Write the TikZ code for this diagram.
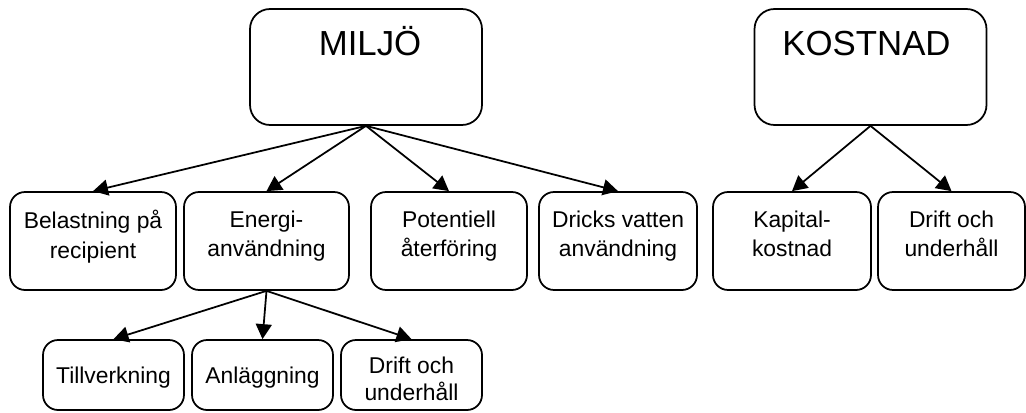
\documentclass[tikz,border=0pt]{standalone}
\usepackage{fontspec}
\setmainfont{Liberation Sans}
\usetikzlibrary{arrows.meta,positioning}
\tikzset{
  catBox/.style = {draw=black, rounded corners=0.3cm, line width=1pt, inner sep=0pt},
  %top boxes
  headBox/.style = {catBox, rounded corners=0.4cm, minimum width=4.64cm,
    minimum height=2.32cm},
  %middle row
  midBox/.style = {catBox, minimum height=1.96cm},
  %bottom row
  lowBox/.style = {catBox, minimum width=2.82cm, minimum height=1.4cm},
  headText/.style = {anchor=base, inner sep=0pt, font=\fontsize{19.8}{24}\selectfont},
  midText/.style = {align=center, inner sep=0pt, font=\fontsize{13}{17}\selectfont},
  lowText/.style = {align=center, inner sep=0pt, font=\fontsize{13}{15.9}\selectfont},
  link/.style = {->, >={Triangle[length=0.3cm,width=0.32cm]}, line width=1pt}
}
\begin{document}
\begin{tikzpicture}[x=0.02cm, y=-0.02cm]
\useasboundingbox (0,0) rectangle (1026,412);
\node [headBox] (miljo) at (366,67) {};
\node [headBox] (kostnad) at (870.5,67) {};
\node [headText] (miljoText) at (370,56) {MILJÖ};
\node [headText] (kostnadText) at (866.5,56) {KOSTNAD};

\node [midBox, minimum width=3.32cm] (belast) at (93,241) {};
\node [midBox, minimum width=3.30cm] (energi) at (266.5,241) {};
\node [midBox, minimum width=3.12cm] (potent) at (449,241) {};
\node [midBox, minimum width=3.16cm] (dricks) at (618,241) {};
\node [midBox, minimum width=3.16cm] (kapital) at (792,241) {};
\node [midBox, minimum width=2.94cm] (driftB) at (951.5,241) {};
\node [midText, below=0.38cm of belast.north] (belastText) {Belastning på\\recipient};
\node [midText, below=0.38cm of energi.north] (energiText) {Energi-\\användning};
\node [midText, below=0.38cm of potent.north] (potentText) {Potentiell\\återföring};
\node [midText, below=0.38cm of dricks.north] (dricksText) {Dricks vatten\\användning};
\node [midText, below=0.38cm of kapital.north] (kapitalText) {Kapital-\\kostnad};
\node [midText, below=0.38cm of driftB.north] (driftBText) {Drift och\\underhåll};

\node [lowBox] (tillv) at (113.5,375) {};
\node [lowBox] (anlagg) at (262.5,375) {};
\node [lowBox] (driftA) at (411.5,375) {};
\node [lowText, below=0.54cm of tillv.north] (tillvText) {Tillverkning};
\node [lowText, below=0.54cm of anlagg.north] (anlaggText) {Anläggning};
\node [lowText, below=0.34cm of driftA.north] (driftAText) {Drift och\\underhåll};

\draw [link] (miljo.south) -- (belast.north);
\draw [link] (miljo.south) -- (energi.north);
\draw [link] (miljo.south) -- (potent.north);
\draw [link] (miljo.south) -- (dricks.north);
\draw [link] (kostnad.south) -- (kapital.north);
\draw [link] (kostnad.south) -- (driftB.north);
\draw [link] (energi.south) -- (tillv.north);
\draw [link] (energi.south) -- (anlagg.north);
\draw [link] (energi.south) -- (driftA.north);
\end{tikzpicture}
\end{document}
